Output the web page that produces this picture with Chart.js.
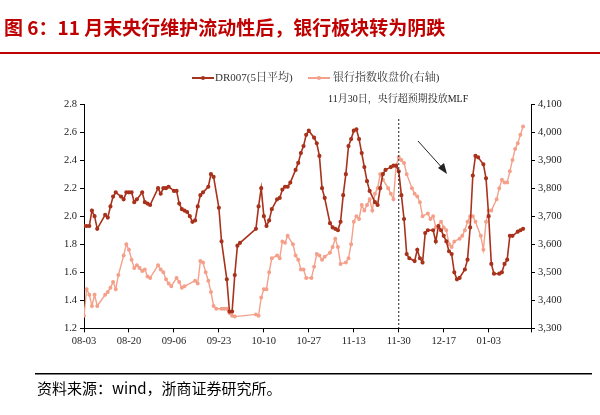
<!DOCTYPE html>
<html><head><meta charset="utf-8">
<script src="https://cdn.jsdelivr.net/npm/chart.js@4"></script>
<style>html,body{margin:0;padding:0;background:#fff}canvas{display:block}</style>
</head><body><canvas id="c" width="600" height="415" style="width:600px;height:415px"></canvas>
<script>
const xTickLabels=['08-03','08-20','09-06','09-23','10-10','10-27','11-13','11-30','12-17','01-03'];
const drDays=[0,1,2,3,4,5,8,9,10,11,12,14,15,16,17,18,19,20,22,23,24,25,28,29,30,31,32,34,35,36,37,38,39,40,41,42,43,44,45,47,48,49,51,52,54,55,56,57,58,59,65,66,67,68,69,70,71,73,74,75,76,77,78,80,81,82,83,84,85,87,88,89,90,91,93,94,95,96,97,98,99,100,101,102,103,104,105,106,107,108,110,111,112,113,114,116,117,118,119,120,121,122,123,125,126,127,128,129,130,132,133,134,135,136,137,138,139,140,141,142,144,145,146,147,148,149,151,152,153,154,155,157,158,159,160,161,162,164,165,166];
const drValues=[1.93,1.93,1.93,2.04,2.0,1.91,2.01,1.99,2.07,2.14,2.17,2.14,2.12,2.17,2.17,2.17,2.10,2.12,2.17,2.10,2.09,2.08,2.2,2.16,2.2,2.2,2.21,2.18,2.18,2.09,2.05,2.04,2.03,2.0,1.96,1.97,2.07,2.15,2.17,2.21,2.3,2.28,2.06,1.82,1.55,1.32,1.32,1.58,1.79,1.81,1.91,2.07,2.2,2.0,1.93,1.97,2.05,2.12,2.13,2.19,2.21,2.21,2.24,2.33,2.38,2.45,2.5,2.58,2.61,2.56,2.52,2.43,2.2,2.13,1.95,1.92,1.91,1.90,1.96,2.15,2.3,2.5,2.55,2.61,2.62,2.55,2.45,2.35,2.25,2.18,2.1,2.08,2.2,2.3,2.33,2.35,2.36,2.36,2.32,2.15,1.98,1.73,1.70,1.68,1.76,1.70,1.67,1.88,1.90,1.90,1.82,1.93,1.90,1.86,1.82,1.75,1.73,1.60,1.55,1.56,1.62,1.69,1.92,2.29,2.43,2.42,2.37,2.27,2.0,1.66,1.59,1.59,1.60,1.66,1.69,1.86,1.86,1.89,1.9,1.91];
const bankDays=[0,1,2,3,4,5,8,9,10,11,12,13,15,16,17,18,19,20,21,22,23,24,25,28,29,30,31,32,33,35,36,37,38,42,43,44,45,46,47,48,49,50,52,53,54,55,56,57,65,66,67,68,69,70,71,73,74,75,76,77,79,80,81,82,83,84,86,87,88,89,90,91,93,94,95,96,97,99,100,101,102,103,104,105,106,107,108,109,110,111,112,113,115,116,117,118,119,120,121,122,124,125,126,127,128,130,131,132,133,135,136,137,138,139,140,142,143,144,145,146,147,148,150,151,152,153,154,156,157,158,159,160,161,162,163,164,165,166];
const bankValues=[3345,3440,3420,3380,3420,3380,3420,3430,3445,3465,3440,3490,3560,3600,3580,3545,3515,3525,3515,3505,3510,3485,3480,3525,3510,3500,3475,3460,3450,3480,3465,3445,3450,3470,3460,3540,3535,3500,3470,3430,3380,3370,3370,3370,3370,3355,3345,3342,3350,3345,3410,3440,3440,3500,3550,3560,3550,3610,3605,3630,3600,3560,3545,3510,3510,3480,3480,3520,3565,3560,3545,3555,3570,3590,3620,3590,3530,3535,3550,3600,3680,3700,3690,3740,3720,3740,3760,3720,3780,3800,3850,3830,3800,3780,3760,3880,3910,3900,3890,3850,3800,3780,3770,3750,3700,3710,3690,3700,3660,3680,3660,3650,3600,3590,3610,3620,3630,3650,3680,3700,3700,3680,3630,3580,3680,3720,3720,3760,3800,3830,3820,3820,3860,3900,3940,3960,3990,4020];
const drColor='#a8321c', bankColor='#f4a08a';
const serif='"Liberation Serif", "Noto Serif CJK SC", serif';
const cjk='"Noto Sans CJK SC", sans-serif';
const deco={id:'deco',afterDraw(ch){
  const c=ch.ctx, a=ch.chartArea, x=ch.scales.x;
  c.save();
  c.fillStyle='#c00000'; c.font='bold 19px '+cjk; c.textBaseline='middle';
  c.fillText('图 6：11 月末央行维护流动性后，银行板块转为阴跌',4,28);
  c.fillStyle='#c00000'; c.fillRect(0,52,600,2);
  c.fillStyle='#000'; c.fillRect(35,373,557,1.5);
  c.font='15px '+cjk; c.fillText('资料来源：wind，浙商证券研究所。',37,388);
  c.font='11px '+serif; c.textBaseline='middle';
  c.strokeStyle=drColor; c.lineWidth=2; c.beginPath(); c.moveTo(192,78); c.lineTo(214,78); c.stroke();
  c.fillStyle=drColor; c.beginPath(); c.arc(203,78,2,0,7); c.fill();
  c.fillStyle='#333'; c.fillText('DR007(5日平均)',215,78);
  c.strokeStyle=bankColor; c.beginPath(); c.moveTo(308,78); c.lineTo(330,78); c.stroke();
  c.fillStyle=bankColor; c.beginPath(); c.arc(319,78,2,0,7); c.fill();
  c.fillStyle='#333'; c.fillText('银行指数收盘价(右轴)',333,78);
  c.font='10px '+serif; c.fillStyle='#222'; c.fillText('11月30日，央行超预期投放MLF',328,99);
  const xv=x.getPixelForValue(119);
  c.setLineDash([2,2]); c.strokeStyle='#222'; c.lineWidth=1;
  c.beginPath(); c.moveTo(xv,119); c.lineTo(xv,a.bottom); c.stroke(); c.setLineDash([]);
  c.beginPath(); c.moveTo(418,141); c.lineTo(445,171); c.stroke();
  c.fillStyle='#222'; c.beginPath(); c.moveTo(447,174); c.lineTo(438,168); c.lineTo(444,163); c.closePath(); c.fill();
  c.restore();
}};
const axisCommon={border:{color:'#000',width:1},grid:{drawOnChartArea:false,tickLength:4,color:'#000'},ticks:{color:'#222',font:{family:serif,size:10.5}}};
new Chart(document.getElementById('c'),{
  type:'line',
  data:{datasets:[
    {label:'DR007(5日平均)',data:drDays.map((d,i)=>({x:d,y:drValues[i]})),borderColor:drColor,backgroundColor:drColor,borderWidth:1.6,pointRadius:1.3,yAxisID:'y'},
    {label:'银行指数收盘价(右轴)',data:bankDays.map((d,i)=>({x:d,y:bankValues[i]})),borderColor:bankColor,backgroundColor:bankColor,borderWidth:1.4,pointRadius:1.3,yAxisID:'y1'}
  ]},
  options:{responsive:false,animation:false,devicePixelRatio:1,
    layout:{padding:{top:104,left:44,right:19,bottom:64}},
    plugins:{legend:{display:false},tooltip:{enabled:false}},
    scales:{
      x:{type:'linear',min:0,max:169,...axisCommon,ticks:{...axisCommon.ticks,stepSize:17,autoSkip:false,maxRotation:0,callback:v=>xTickLabels[v/17]||''}},
      y:{min:1.2,max:2.8,...axisCommon,ticks:{...axisCommon.ticks,stepSize:0.2,callback:v=>v.toFixed(1)},afterFit:s=>{s.width=40}},
      y1:{position:'right',min:3300,max:4100,...axisCommon,ticks:{...axisCommon.ticks,stepSize:100,callback:v=>v.toLocaleString('en-US')},afterFit:s=>{s.width=50}}
    }
  },
  plugins:[deco]
});
</script></body></html>
